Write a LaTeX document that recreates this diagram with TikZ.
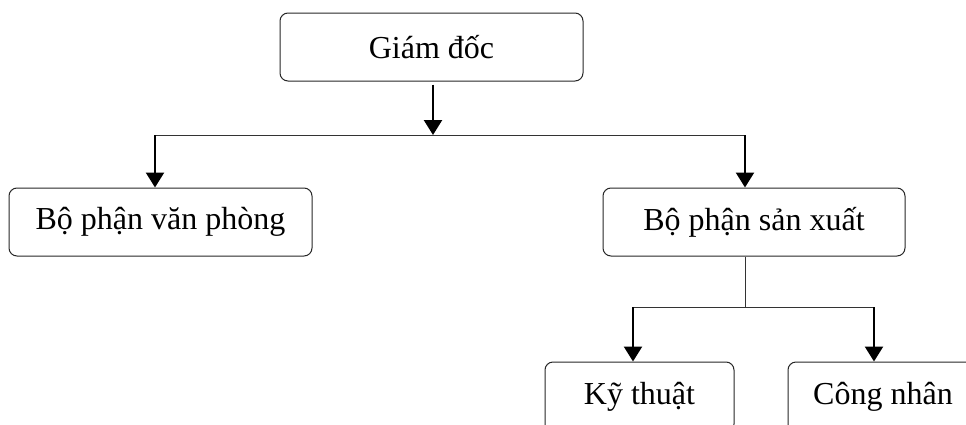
\documentclass[tikz,border=0pt]{standalone}
\usepackage{fontspec}
\setmainfont{Liberation Serif}
\usetikzlibrary{arrows.meta}
\begin{document}
\begin{tikzpicture}[x=0.5pt,y=-0.5pt,
  box/.style={draw=black!85, line width=0.5pt, rounded corners=4pt,
    inner sep=0pt, minimum height=34pt, font=\fontsize{16}{19}\selectfont},
  label text/.style={inner sep=0pt, font=\fontsize{16}{19}\selectfont},
  link/.style={draw=black!80, line width=0.5pt},
  arr/.style={draw=black, line width=1.2pt,
    -{Triangle[length=7.5pt,width=9pt]}}]
\useasboundingbox (0,0) rectangle (966,424);
\begin{scope}
\clip (0,0) rectangle (966,424);
% boxes
\node[box, minimum width=151.5pt] (gd) at (431.5,47) {Giám đốc};
\node[box, minimum width=151.5pt] (vp) at (160.5,222) {Bộ phận văn phòng};
\node[box, minimum width=151pt] (sx) at (754,222) {Bộ phận sản xuất};
\node[box, minimum width=94.5pt, minimum height=35pt] (kt) at (639.5,397) {Kỹ thuật};
% the last box runs past the right margin; its label sits left of the box centre
\node[box, minimum width=110pt, minimum height=35pt] (cn) at (898,397) {};
\node[label text] (cnt) at (883,397) {Công nhân};
% branch points
\coordinate (tl) at (155,135);
\coordinate (tr) at (745,135);
\coordinate (tm) at (433,135);
\coordinate (bm) at (745,307);
\coordinate (bl) at (633,307);
\coordinate (br) at (874,307);
% connectors
\draw[arr, shorten <=1.5pt] (gd.south -| tm) -- (tm);
\draw[link] (tl) -- (tr);
\draw[arr] (tl) -- (tl |- vp.north);
\draw[arr] (tr) -- (tr |- sx.north);
\draw[link] (sx.south -| bm) -- (bm);
\draw[link] (bl) -- (br);
\draw[arr] (bl) -- (bl |- kt.north);
\draw[arr] (br) -- (br |- cn.north);
\end{scope}
\end{tikzpicture}
\end{document}
